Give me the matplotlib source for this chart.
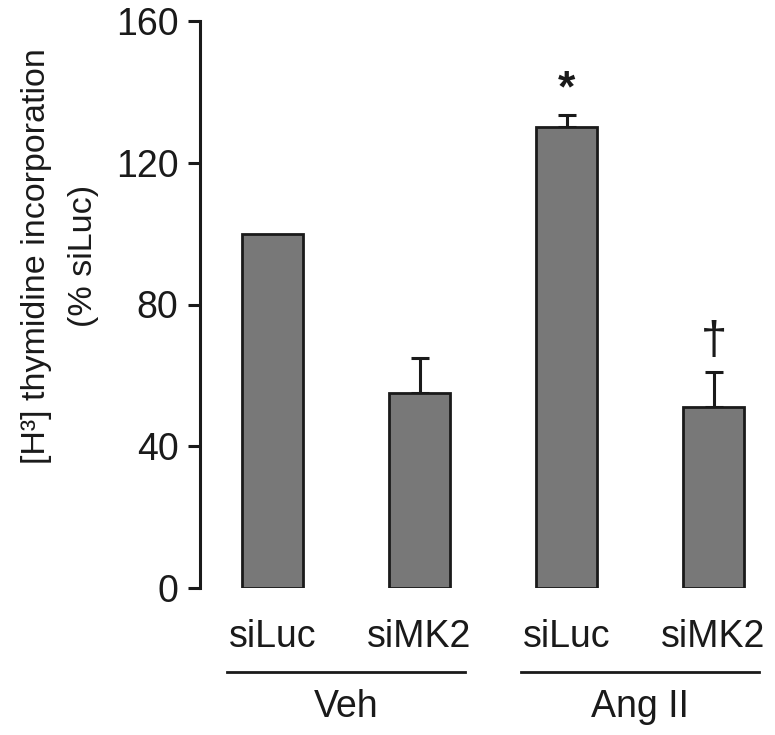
import matplotlib
matplotlib.use("Agg")
import matplotlib.pyplot as plt

categories = ["siLuc", "siMK2", "siLuc", "siMK2"]
groups = ["Veh", "Ang II"]
values = [100, 55, 130, 51]
errors = [0, 10, 3.5, 10]
annotations = ["", "", "*", "\u2020"]
annot_y = [0, 0, 140.5, 69.5]
yticks = [0, 40, 80, 120, 160]

plt.rcParams['font.family'] = ['Liberation Sans', 'DejaVu Sans']

fig = plt.figure(figsize=(7.75, 7.35), dpi=100)
ax = fig.add_axes([200/775, 1-588/735, 560/775, (588-21)/735])

x = list(range(len(values)))
ax.bar(x, values, width=0.41, color="#787878", edgecolor="#1a1a1a", linewidth=2.0, zorder=2)
for xi, v, e in zip(x, values, errors):
    if e > 0:
        ax.errorbar(xi, v, yerr=[[0], [e]], fmt="none", ecolor="#1a1a1a",
                    elinewidth=2.2, capsize=6.5, capthick=2.2, zorder=1)

for xi, s, yv in zip(x, annotations, annot_y):
    if s == "*":
        ax.text(xi, yv, s, ha="center", va="center", fontsize=32, fontweight="bold", color="#1a1a1a")
    elif s:
        ax.text(xi, yv, s, ha="center", va="center", fontsize=34, color="#1a1a1a")

ax.set_xlim(-0.493, 3.316)
ax.set_ylim(0, 160)
ax.set_yticks(yticks)
ax.set_yticklabels([str(t) for t in yticks], fontsize=27)
ax.tick_params(axis="y", direction="out", length=8.5, width=2.2, pad=7, colors="#1a1a1a")
ax.set_xticks([])
for sp in ["top", "right", "bottom"]:
    ax.spines[sp].set_visible(False)
ax.spines["left"].set_linewidth(2.2)
ax.spines["left"].set_color("#1a1a1a")

trans = ax.get_xaxis_transform()
for xi, c in zip(x, categories):
    ax.text(xi, -(637-588)/567, c, transform=trans, ha="center", va="center", fontsize=27, color="#1a1a1a")

for gi, g in enumerate(groups):
    x0 = x[2*gi] - 0.31
    x1 = x[2*gi+1] + 0.31
    ax.plot([x0, x1], [-(672-588)/567]*2, transform=trans, color="#1a1a1a", lw=2.0, clip_on=False)
    ax.text((x0+x1)/2, -(707-588)/567, g, transform=trans, ha="center", va="center", fontsize=27, color="#1a1a1a")

fig.text(60/775, 1-256/735, "[H\u00b3] thymidine incorporation\n(% siLuc)", rotation=90,
         ha="center", va="center", multialignment="center", fontsize=24.5, color="#1a1a1a",
         linespacing=1.7)

fig.savefig("out.png", dpi=100, facecolor="white")
